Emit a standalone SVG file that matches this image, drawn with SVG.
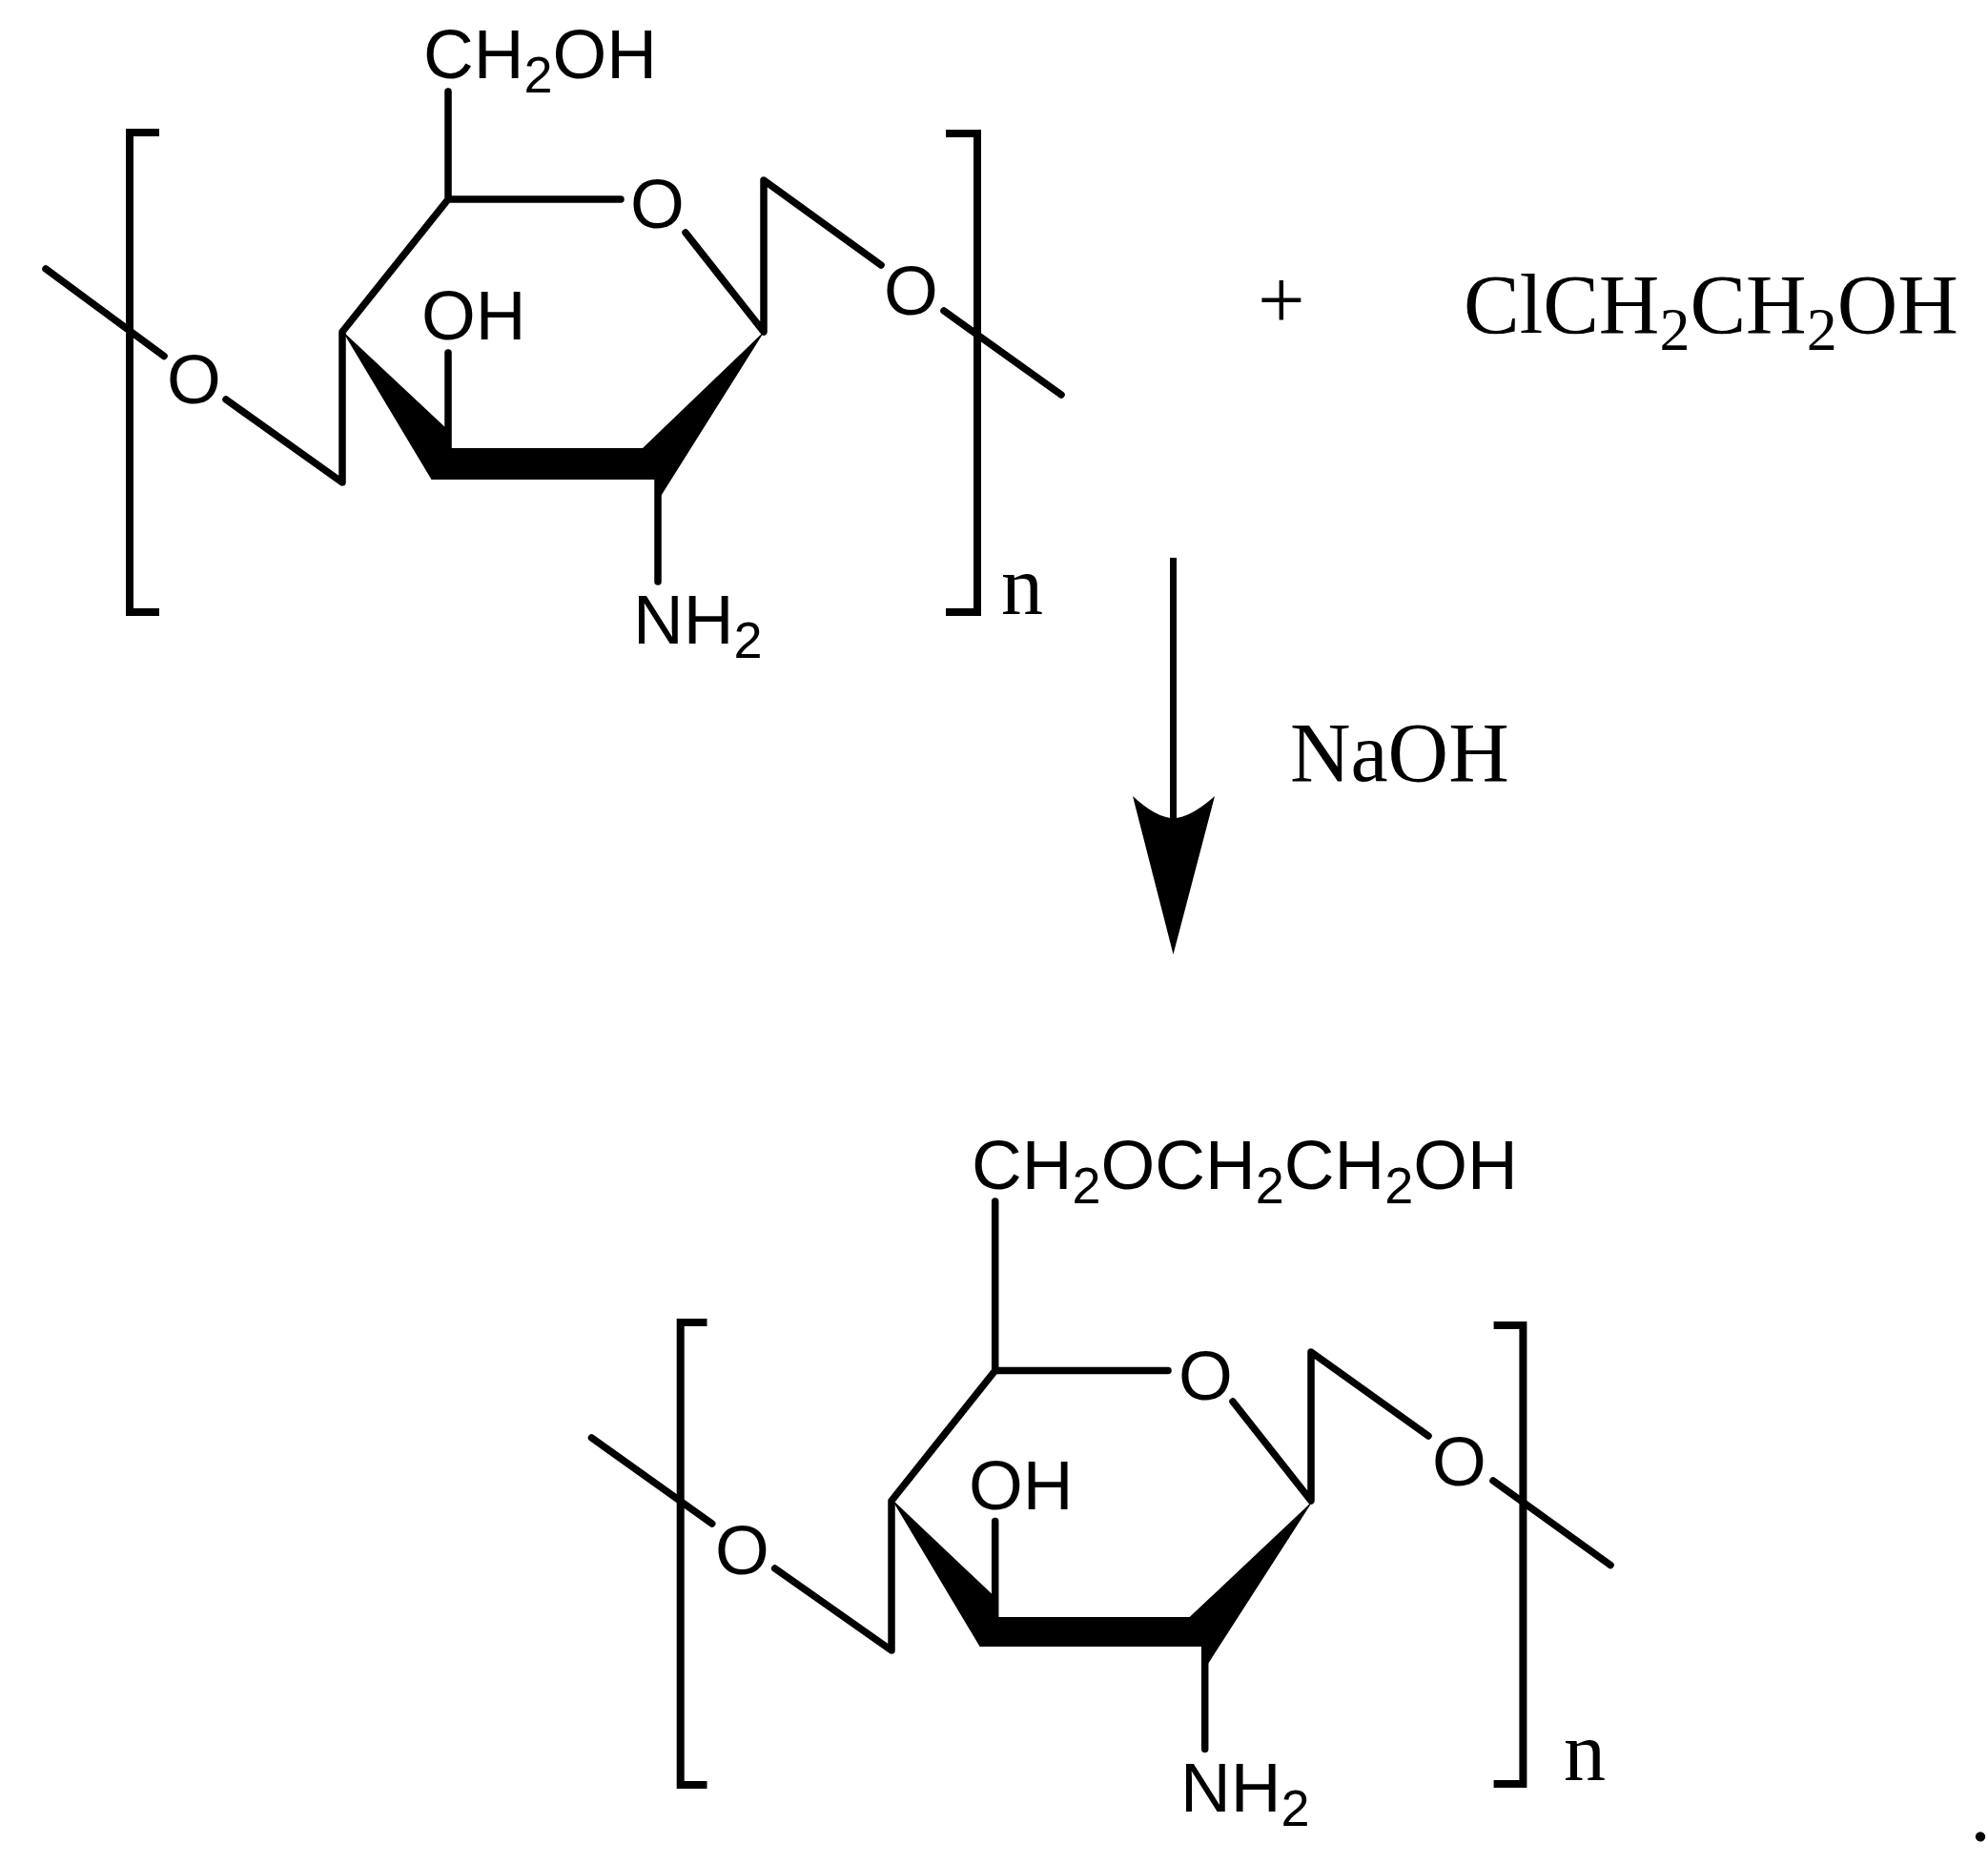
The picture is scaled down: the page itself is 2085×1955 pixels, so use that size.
<svg xmlns="http://www.w3.org/2000/svg" width="2085" height="1955" viewBox="0 0 2085 1955">
<style>
.b{fill:none;stroke:#000;stroke-width:7.5;stroke-linecap:round;stroke-linejoin:round}
.br{fill:none;stroke:#000;stroke-width:8;stroke-linecap:butt;stroke-linejoin:miter}
.a{font-family:"Liberation Sans",Arial,sans-serif;font-size:73px;fill:#000}
.t{font-family:"Liberation Serif","Times New Roman",serif;font-size:88px;fill:#000}
.s{font-size:54px}
.st{font-size:64px}
</style>
<rect width="2085" height="1955" fill="#fff"/>
<g id="connectors">
<g id="top-bonds">
<path class="br" d="M167 139H136V642H167"/>
<path class="br" d="M992 140H1025V642H992"/>
<path class="b" d="M470 96V208.500M651 209H470L359 348V506L237 419M172 373.500L48 282"/>
<path class="b" d="M719 244L801 348V189L924 278M990 326L1113 414"/>
<path class="b" d="M470 370V471M690 502V610"/>
<path fill="#000" d="M359 347L470 451V470H674L802 347L692 522L688 503H452.500Z"/>
</g>
<g id="bottom-bonds">
<path class="br" d="M741.500 1387H713.700V1872H741.500"/>
<path class="br" d="M1566.600 1390H1597.400V1871H1566.600"/>
<path class="b" d="M1043.700 1260V1437M1225 1437.500H1043.700L935 1574V1731L812.700 1645M746.700 1598L620.500 1508"/>
<path class="b" d="M1293 1470L1375 1574V1418L1498 1506M1566 1553L1689 1641.500"/>
<path class="b" d="M1043.700 1595.400V1698M1263.700 1726V1834.500"/>
<path fill="#000" d="M935 1572L1043.700 1675V1696H1247.600L1377 1574L1266 1746.500L1262 1727H1027.600Z"/>
</g>
<g id="arrow">
<path d="M1230.500 585V860" fill="none" stroke="#000" stroke-width="7"/>
<path fill="#000" d="M1188 835Q1213 858 1230.500 858Q1248 858 1274 835L1230.500 1001Z"/>
</g>
</g>
<g id="reactant">
<text class="a" x="444" y="82">CH<tspan class="s" dy="15">2</tspan><tspan dy="-15">OH</tspan></text>
<text class="a" x="661" y="239">O</text>
<text class="a" x="442" y="356">OH</text>
<text class="a" x="927" y="330">O</text>
<text class="a" x="175" y="423">O</text>
<text class="a" x="664" y="675">NH<tspan class="s" dy="15">2</tspan></text>
<text class="t" x="1050" y="644">n</text>
</g>
<g id="reagent">
<text class="t" x="1319" y="344">+</text>
<text class="t" x="1535" y="349">ClCH<tspan class="st" dy="18">2</tspan><tspan dy="-18">CH</tspan><tspan class="st" dy="18">2</tspan><tspan dy="-18">OH</tspan></text>
<text class="t" x="1353" y="819">NaOH</text>
</g>
<g id="product">
<text class="a" x="1019" y="1247">CH<tspan class="s" dy="15">2</tspan><tspan dy="-15">OCH</tspan><tspan class="s" dy="15">2</tspan><tspan dy="-15">CH</tspan><tspan class="s" dy="15">2</tspan><tspan dy="-15">OH</tspan></text>
<text class="a" x="1236" y="1468">O</text>
<text class="a" x="1016" y="1583">OH</text>
<text class="a" x="1502" y="1558">O</text>
<text class="a" x="750" y="1651">O</text>
<text class="a" x="1238" y="1900">NH<tspan class="s" dy="15">2</tspan></text>
<text class="t" x="1640" y="1867">n</text>
</g>
<text class="t" x="2069" y="1931" font-weight="700" style="font-size:64px">.</text>
</svg>
